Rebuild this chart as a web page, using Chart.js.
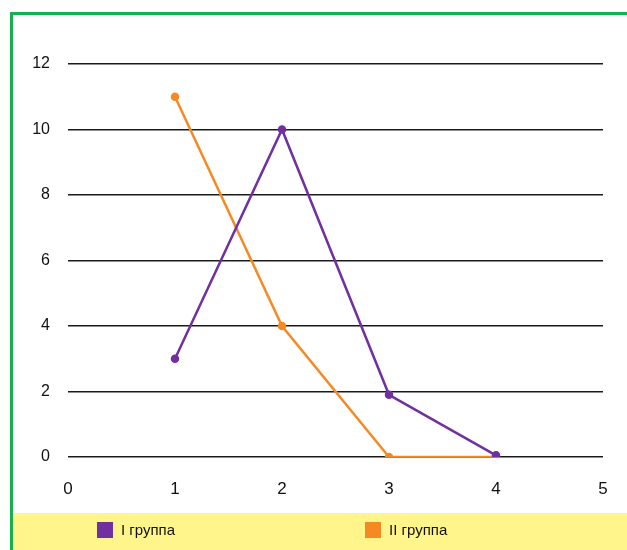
<!DOCTYPE html>
<html>
<head>
<meta charset="utf-8">
<script src="https://cdn.jsdelivr.net/npm/chart.js@4/dist/chart.umd.min.js"></script>
<style>
  html, body { margin: 0; padding: 0; background: #ffffff; }
  #wrap { position: relative; width: 627px; height: 550px; }
</style>
</head>
<body>
<div id="wrap"><canvas id="chart" width="627" height="550"></canvas></div>
<script>
// Survey groups: counts per score value
const xValues = [1, 2, 3, 4];
const groupOne = [3, 10, 1.9, 0.05];
const groupTwo = [11, 4, 0, 0];
const seriesNames = ['I группа', 'II группа'];
const seriesColors = ['#7030A0', '#F58A25'];
const xTicks = [0, 1, 2, 3, 4, 5];
const yTicks = [0, 2, 4, 6, 8, 10, 12];

const toPoints = vals => xValues.map((x, i) => ({ x: x, y: vals[i] }));

// Frame: green border on top/left and a yellow legend strip at the bottom
const framePlugin = {
  id: 'frame',
  beforeDraw(chart) {
    const ctx = chart.ctx;
    ctx.save();
    ctx.fillStyle = '#ffffff';
    ctx.fillRect(0, 0, chart.width, chart.height);
    ctx.fillStyle = '#FFF58A';
    ctx.fillRect(12, 513, chart.width - 12, chart.height - 513);
    ctx.strokeStyle = '#16B04E';
    ctx.lineWidth = 3;
    ctx.beginPath();
    ctx.moveTo(11.5, chart.height);
    ctx.lineTo(11.5, 13.5);
    ctx.lineTo(chart.width, 13.5);
    ctx.stroke();
    ctx.restore();
  },
  afterDraw(chart) {
    // legend entries inside the yellow strip
    const ctx = chart.ctx;
    const starts = [97, 365];
    ctx.save();
    ctx.font = '15px "Liberation Sans", Arial, sans-serif';
    ctx.textBaseline = 'middle';
    chart.data.datasets.forEach((ds, i) => {
      const x = starts[i];
      ctx.fillStyle = ds.borderColor;
      ctx.fillRect(x, 522, 16, 16);
      ctx.fillStyle = '#111111';
      ctx.fillText(ds.label, x + 24, 531);
    });
    ctx.restore();
  }
};

new Chart(document.getElementById('chart'), {
  type: 'line',
  data: {
    datasets: [
      {
        label: seriesNames[0],
        data: toPoints(groupOne),
        borderColor: seriesColors[0],
        backgroundColor: seriesColors[0],
        borderWidth: 2.5,
        pointRadius: 3,
        pointHoverRadius: 3,
        tension: 0
      },
      {
        label: seriesNames[1],
        data: toPoints(groupTwo),
        borderColor: seriesColors[1],
        backgroundColor: seriesColors[1],
        borderWidth: 2.5,
        pointRadius: 3,
        pointHoverRadius: 3,
        tension: 0
      }
    ]
  },
  options: {
    responsive: false,
    animation: false,
    events: [],
    layout: { padding: { left: 0, right: 24, top: 64, bottom: 53 } },
    plugins: {
      legend: { display: false },
      tooltip: { enabled: false }
    },
    scales: {
      x: {
        type: 'linear',
        min: xTicks[0],
        max: xTicks[xTicks.length - 1],
        afterBuildTicks: s => { s.ticks = xTicks.map(v => ({ value: v })); },
        afterFit: s => { s.height = 40; s.paddingLeft = 0; s.paddingRight = 0; },
        grid: { display: false, drawTicks: false },
        border: { display: false },
        ticks: {
          padding: 22,
          color: '#111111',
          font: { family: '"Liberation Sans", Arial, sans-serif', size: 17 }
        }
      },
      y: {
        min: yTicks[0],
        max: yTicks[yTicks.length - 1],
        afterBuildTicks: s => { s.ticks = yTicks.map(v => ({ value: v })); },
        afterFit: s => { s.width = 68; s.paddingTop = 0; s.paddingBottom = 0; },
        grid: { color: '#1a1a1a', lineWidth: 1.6, drawTicks: false },
        border: { display: false },
        ticks: {
          padding: 18,
          color: '#111111',
          font: { family: '"Liberation Sans", Arial, sans-serif', size: 16 }
        }
      }
    }
  },
  plugins: [framePlugin]
});
</script>
</body>
</html>
